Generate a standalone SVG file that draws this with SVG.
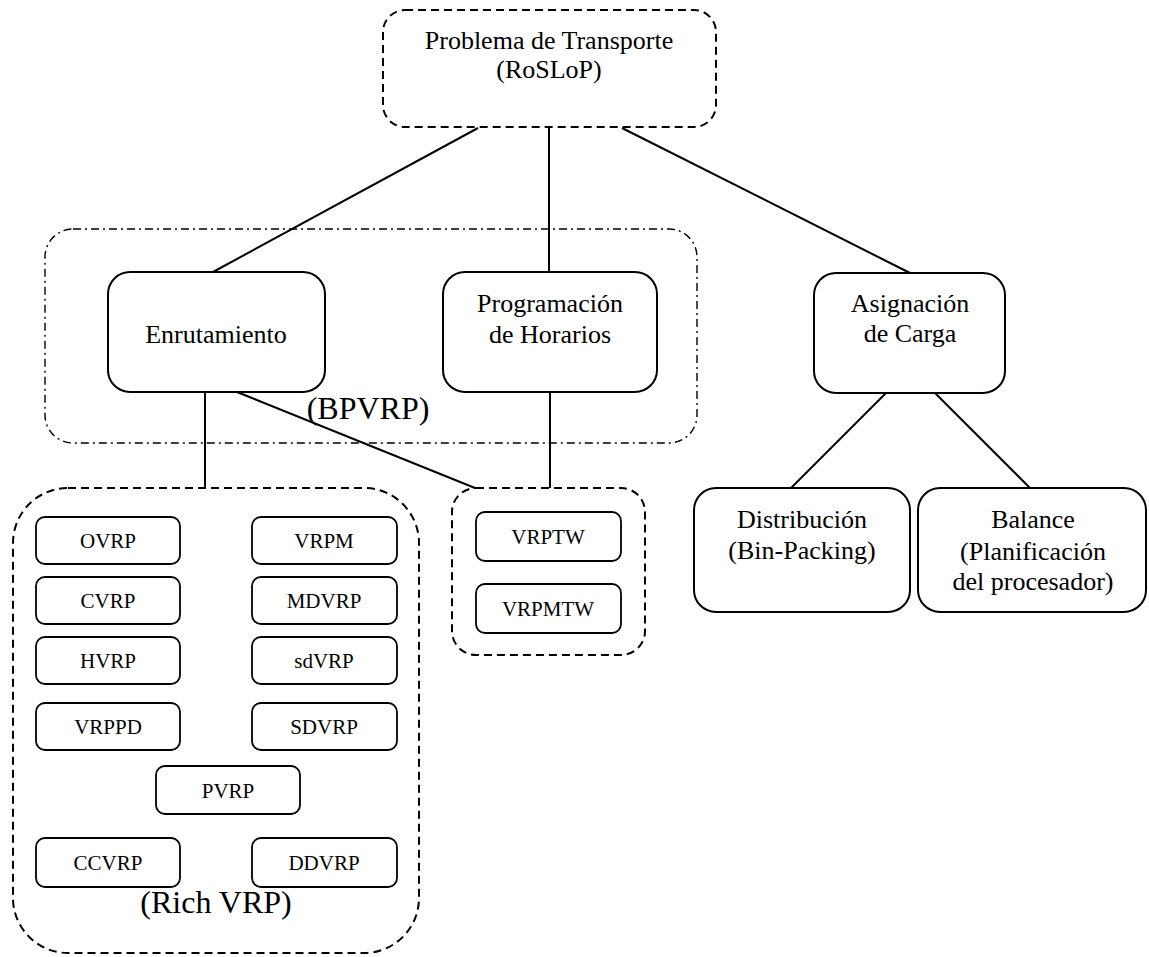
<svg xmlns="http://www.w3.org/2000/svg" width="1149" height="957" viewBox="0 0 1149 957">
<style>
text{font-family:'Liberation Serif','Times New Roman','DejaVu Serif',serif;fill:#000;text-anchor:middle}
.n{fill:#fff;stroke:#000;stroke-width:2}
.s{fill:#fff;stroke:#000;stroke-width:1.8}
.dash{fill:none;stroke:#000;stroke-width:2;stroke-dasharray:8,5}
.dd{fill:none;stroke:#000;stroke-width:1.4;stroke-dasharray:8,4,2,4}
.c{stroke:#000;stroke-width:2;fill:none}
.t26{font-size:26px}
.t21{font-size:21px}
.t32{font-size:32px}
</style>
<rect width="1149" height="957" fill="#fff"/>
<g font-family="'Liberation Serif', 'Times New Roman', serif">
<g id="bpvrp-group">
<rect class="dd" x="45" y="229" width="652" height="214" rx="28"/>
<text class="t32" x="368" y="419">(BPVRP)</text>
</g>
<g id="connectors">
<line class="c" x1="478" y1="128" x2="213" y2="272"/>
<line class="c" x1="549" y1="128" x2="549" y2="272"/>
<line class="c" x1="622" y1="128" x2="910" y2="273"/>
<line class="c" x1="205" y1="392" x2="205" y2="488"/>
<line class="c" x1="237" y1="392" x2="475" y2="488"/>
<line class="c" x1="550" y1="392" x2="550" y2="488"/>
<line class="c" x1="886" y1="393" x2="791" y2="488"/>
<line class="c" x1="935" y1="393" x2="1030" y2="488"/>
</g>
<g id="root">
<rect class="dash" x="383" y="10" width="333" height="117" rx="22"/>
<text class="t26" x="549" y="49">Problema de Transporte</text>
<text class="t26" x="549" y="78">(RoSLoP)</text>
</g>
<g id="enrutamiento">
<rect class="n" x="108" y="272" width="217" height="120" rx="22"/>
<text class="t26" x="216" y="343">Enrutamiento</text>
</g>
<g id="programacion">
<rect class="n" x="443" y="272" width="214" height="120" rx="22"/>
<text class="t26" x="550" y="312">Programación</text>
<text class="t26" x="550" y="343">de Horarios</text>
</g>
<g id="asignacion">
<rect class="n" x="814" y="273" width="191" height="120" rx="22"/>
<text class="t26" x="910" y="312">Asignación</text>
<text class="t26" x="910" y="342">de Carga</text>
</g>
<g id="distribucion">
<rect class="n" x="694" y="488" width="216" height="124" rx="22"/>
<text class="t26" x="802" y="528">Distribución</text>
<text class="t26" x="802" y="559">(Bin-Packing)</text>
</g>
<g id="balance">
<rect class="n" x="918" y="488" width="228" height="124" rx="22"/>
<text class="t26" x="1033" y="528">Balance</text>
<text class="t26" x="1033" y="560">(Planificación</text>
<text class="t26" x="1033" y="590">del procesador)</text>
</g>
<g id="richvrp-group">
<rect class="dash" x="13" y="488" width="406" height="465" rx="55"/>
<text class="t32" x="216" y="913">(Rich VRP)</text>
</g>
<g id="ovrp"><rect class="s" x="36" y="517" width="144" height="47" rx="9"/><text class="t21" x="108" y="548">OVRP</text></g>
<g id="vrpm"><rect class="s" x="252" y="517" width="145" height="47" rx="9"/><text class="t21" x="324" y="548">VRPM</text></g>
<g id="cvrp"><rect class="s" x="36" y="577" width="144" height="47" rx="9"/><text class="t21" x="108" y="608">CVRP</text></g>
<g id="mdvrp"><rect class="s" x="252" y="577" width="145" height="47" rx="9"/><text class="t21" x="324" y="608">MDVRP</text></g>
<g id="hvrp"><rect class="s" x="36" y="637" width="144" height="47" rx="9"/><text class="t21" x="108" y="668">HVRP</text></g>
<g id="sdvrp-lower"><rect class="s" x="252" y="637" width="145" height="47" rx="9"/><text class="t21" x="324" y="668">sdVRP</text></g>
<g id="vrppd"><rect class="s" x="36" y="703" width="144" height="47" rx="9"/><text class="t21" x="108" y="734">VRPPD</text></g>
<g id="sdvrp"><rect class="s" x="252" y="703" width="145" height="47" rx="9"/><text class="t21" x="324" y="734">SDVRP</text></g>
<g id="pvrp"><rect class="s" x="156" y="766" width="144" height="48" rx="9"/><text class="t21" x="228" y="798">PVRP</text></g>
<g id="ccvrp"><rect class="s" x="36" y="838" width="144" height="49" rx="9"/><text class="t21" x="108" y="870">CCVRP</text></g>
<g id="ddvrp"><rect class="s" x="252" y="838" width="145" height="49" rx="9"/><text class="t21" x="324" y="870">DDVRP</text></g>
<g id="tw-group">
<rect class="dash" x="452" y="488" width="193" height="167" rx="24"/>
</g>
<g id="vrptw"><rect class="s" x="476" y="512" width="145" height="49" rx="9"/><text class="t21" x="548" y="544">VRPTW</text></g>
<g id="vrpmtw"><rect class="s" x="476" y="584" width="145" height="49" rx="9"/><text class="t21" x="548" y="616">VRPMTW</text></g>
</g>
</svg>
